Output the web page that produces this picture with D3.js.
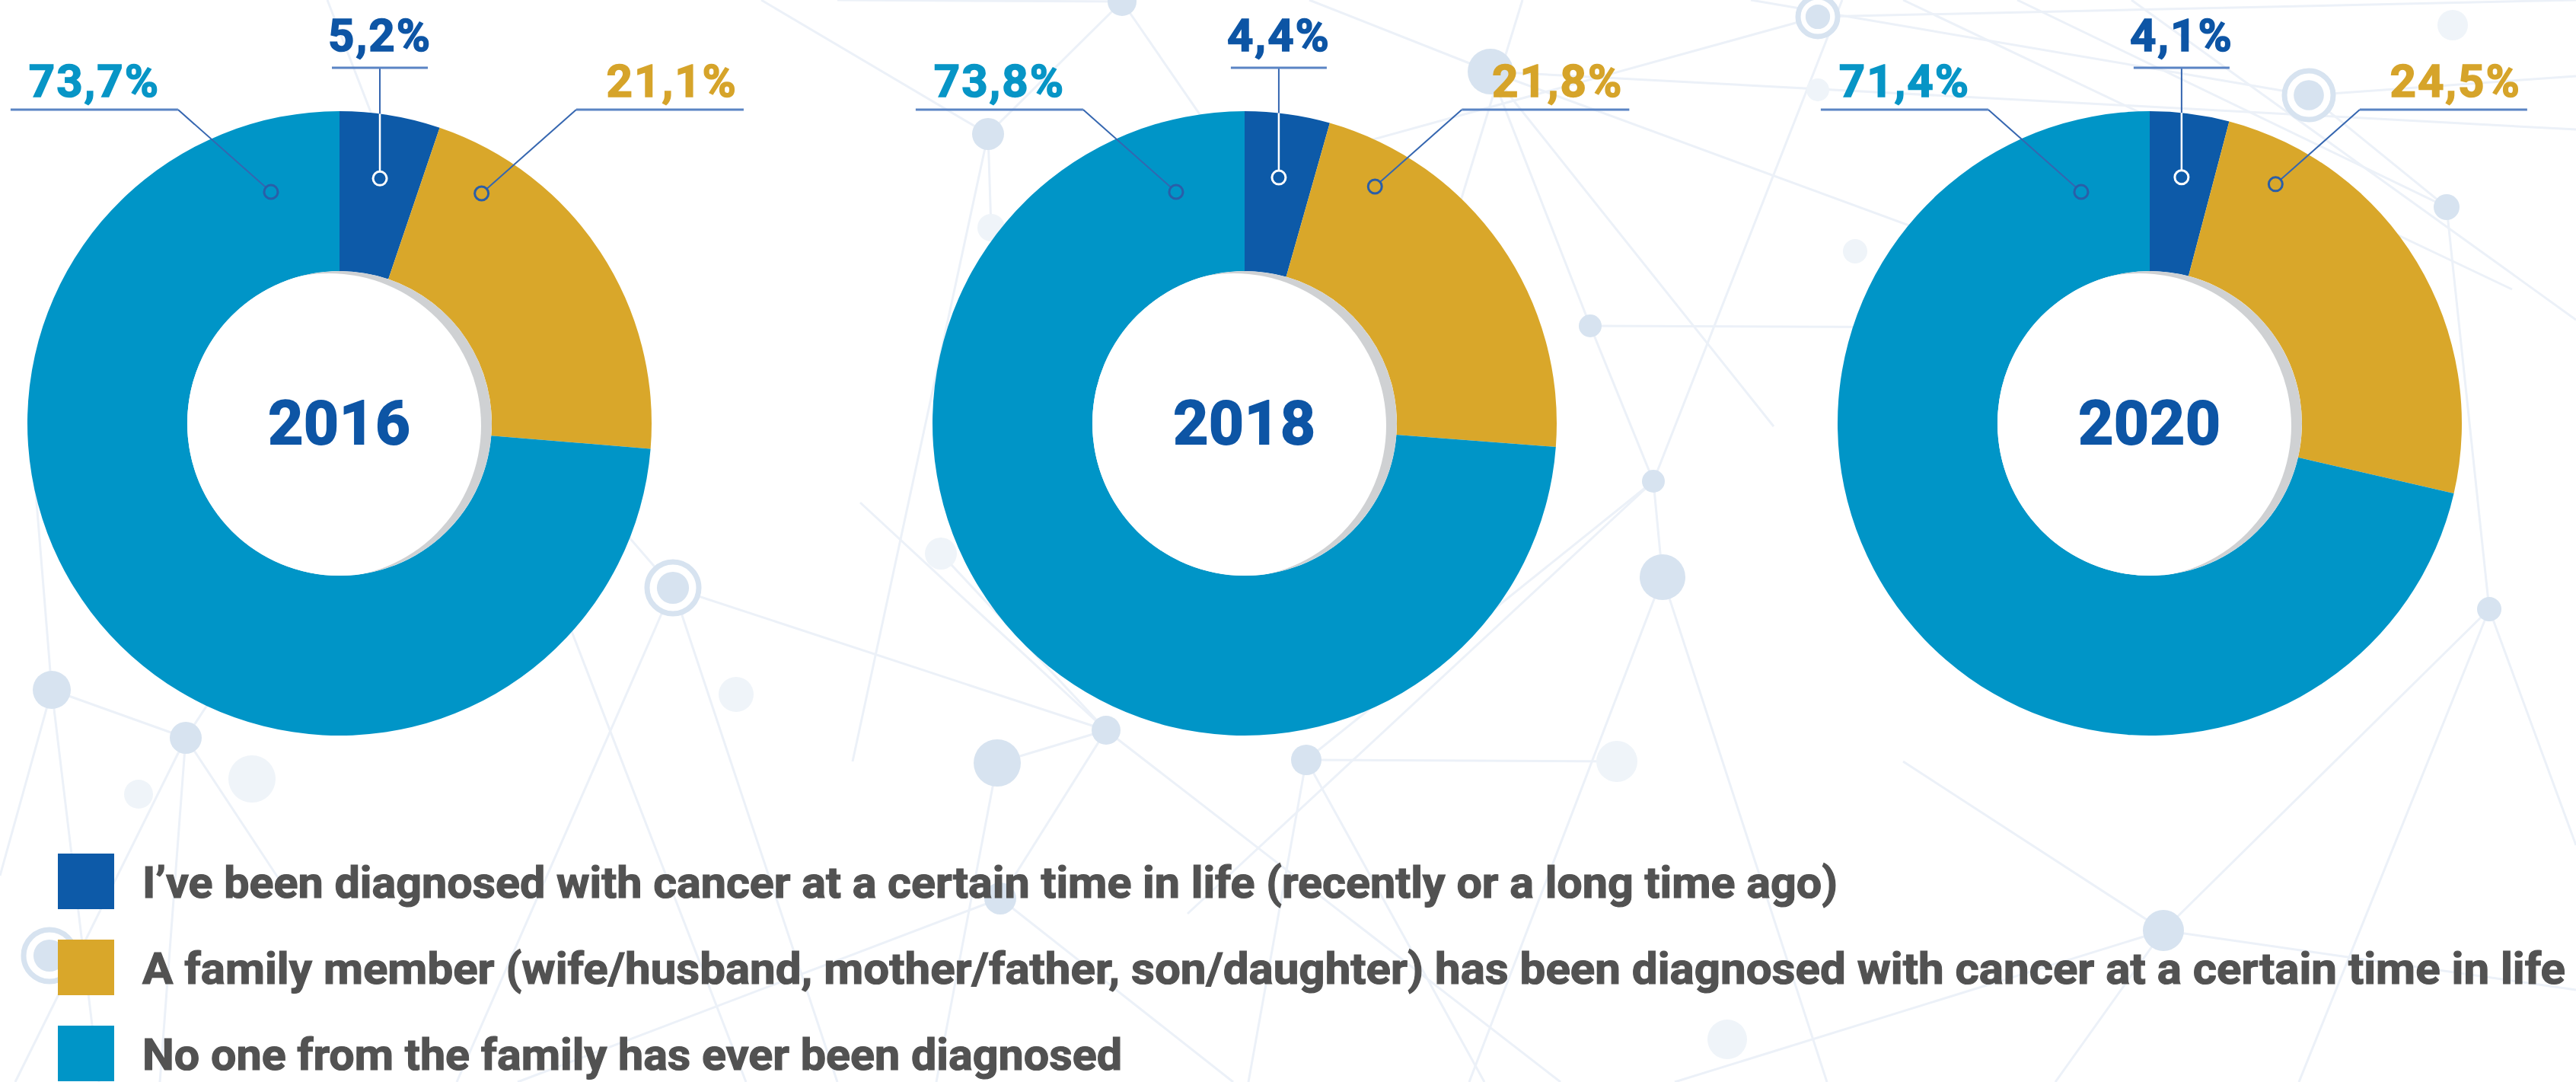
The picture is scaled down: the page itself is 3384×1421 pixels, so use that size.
<!DOCTYPE html>
<head>
  <meta charset="utf-8">
  <script src="https://cdn.jsdelivr.net/npm/d3@7"></script>
  <style>
    body { margin: 0; background: #ffffff; }
    svg { display: block; }
  </style>
</head>
<body>
  <div id="chartDiv"></div>
  <script>

    // data
    var years = ["2016", "2018", "2020"];
    var categories = [
      "I’ve been diagnosed with cancer at a certain time in life (recently or a long time ago)",
      "A family member (wife/husband, mother/father, son/daughter) has been diagnosed with cancer at a certain time in life",
      "No one from the family has ever been diagnosed"
    ];
    var selfDiagnosed   = [5.2, 4.4, 4.1];
    var familyDiagnosed = [21.1, 21.8, 24.5];
    var nobodyDiagnosed = [73.7, 73.8, 71.4];

    var sliceColors = ["#0d5aa8", "#d9a72a", "#0095c7"];
    var labelColors = ["#0d55a5", "#d6a42a", "#0795c6"];

    // background "network" decoration: [x, y, r, kind]
    var bgNodes = [
      [884, 772, 34, "ring"], [68, 906, 25, "dot"], [244, 969, 21, "dot"], [331, 1023, 31, "faint"],
      [182, 1043, 19, "faint"], [967, 912, 23, "faint"], [1236, 727, 21, "faint"], [1310, 1002, 31, "dot"],
      [1453, 959, 19, "dot"], [1716, 998, 20, "dot"], [2124, 1000, 27, "faint"], [2184, 758, 30, "dot"],
      [2172, 632, 15, "dot"], [2089, 428, 15, "dot"], [1958, 94, 30, "dot"], [1298, 176, 21, "dot"],
      [1302, 299, 18, "faint"], [1474, 2, 19, "dot"], [2388, 22, 26, "ring"], [2437, 330, 16, "faint"],
      [3033, 125, 32, "ring"], [3214, 272, 17, "dot"], [3270, 800, 16, "dot"], [2842, 1222, 27, "dot"],
      [2269, 1365, 26, "faint"], [1314, 1180, 21, "dot"], [65, 1255, 34, "ring"], [3222, 33, 20, "faint"],
      [2388, 118, 15, "faint"]
    ];
    var bgLinks = [
      [[884,772],[1453,959]], [[884,772],[600,1421]], [[700,560],[884,772]], [[884,772],[1100,1421]],
      [[68,906],[244,969]], [[68,906],[0,1150]], [[68,906],[130,1421]], [[40,560],[68,906]],
      [[244,969],[370,1160]], [[244,969],[210,1421]], [[244,969],[20,1421]], [[244,969],[420,700]],
      [[1453,959],[1314,1180]], [[1453,959],[1310,1002]], [[1453,959],[1130,660]], [[1453,959],[2050,1421]],
      [[1453,959],[1236,727]], [[1310,1002],[1230,1421]], [[1314,1180],[680,1421]], [[1314,1180],[1620,1421]],
      [[1716,998],[2124,1000]], [[1716,998],[1640,1421]], [[1716,998],[1950,1421]], [[1716,998],[2172,632]],
      [[2172,632],[2184,758]], [[2172,632],[2089,428]], [[2172,632],[2420,0]], [[2172,632],[1560,1200]],
      [[2184,758],[1930,1421]], [[2184,758],[2400,1421]], [[2089,428],[1958,94]], [[2089,428],[2620,430]],
      [[1958,94],[1720,0]], [[1958,94],[2330,560]], [[1958,94],[3384,170]], [[1958,94],[2600,330]],
      [[2388,22],[1380,300]], [[2388,22],[3384,0]], [[3033,125],[3214,272]], [[3033,125],[2300,0]],
      [[3033,125],[3384,100]], [[3214,272],[3270,800]], [[3214,272],[2650,0]], [[3270,800],[2842,1222]],
      [[3270,800],[3384,1110]], [[3270,800],[3020,1421]], [[2842,1222],[2700,1421]], [[2842,1222],[2500,1000]],
      [[2842,1222],[3384,1300]], [[2842,1222],[2200,1421]], [[1298,176],[1302,299]], [[1298,176],[1474,2]],
      [[1298,176],[1000,0]], [[1298,176],[1120,1000]], [[1474,2],[1700,330]], [[1100,0],[1474,2]],
      [[430,0],[980,1421]], [[2800,0],[3384,420]], [[2500,0],[3300,380]], [[1800,650],[2000,0]]
    ];

    var width = 3384, height = 1421;
    var cy = 556, outerR = 410, innerR = 200;
    var deg = Math.PI / 180;

    var svg = d3.select("#chartDiv").append("svg")
        .attr("width", width)
        .attr("height", height);

    // ---- background
    var bg = svg.append("g");
    bg.selectAll("line")
        .data(bgLinks)
      .enter().append("line")
        .attr("x1", function(d) { return d[0][0]; })
        .attr("y1", function(d) { return d[0][1]; })
        .attr("x2", function(d) { return d[1][0]; })
        .attr("y2", function(d) { return d[1][1]; })
        .style("stroke", "#ecf1f8")
        .style("stroke-width", 3);

    var nodes = bg.selectAll("g.bgnode")
        .data(bgNodes)
      .enter().append("g")
        .attr("class", "bgnode")
        .attr("transform", function(d) { return "translate(" + d[0] + "," + d[1] + ")"; });
    nodes.filter(function(d) { return d[3] == "ring"; }).append("circle")
        .attr("r", function(d) { return d[2]; })
        .style("fill", "#ffffff")
        .style("stroke", "#d7e3f0")
        .style("stroke-width", 7);
    nodes.append("circle")
        .attr("r", function(d) { return d[3] == "ring" ? d[2] * 0.62 : d[2]; })
        .style("fill", function(d) { return d[3] == "faint" ? "#eff4f9" : "#d7e3f0"; });

    // ---- donuts
    var x = d3.scalePoint().domain(years).range([446, 2824]);
    var color = d3.scaleOrdinal().domain([0, 1, 2]).range(sliceColors);
    var labelColor = d3.scaleOrdinal().domain([0, 1, 2]).range(labelColors);
    var pie = d3.pie().sort(null).value(function(d) { return d.value; });
    var arc = d3.arc().innerRadius(innerR).outerRadius(outerR);
    var fmt = function(v) { return d3.format(".1f")(v).replace(".", ",") + "%"; };

    svg.append("defs").append("clipPath")
        .attr("id", "hole")
      .append("circle")
        .attr("r", innerR);

    var rows = years.map(function(y, i) {
      return { year: y, slices: [
        { key: 0, value: selfDiagnosed[i] },
        { key: 1, value: familyDiagnosed[i] },
        { key: 2, value: nobodyDiagnosed[i] }
      ]};
    });

    function polar(a, r) { return [r * Math.sin(a), -r * Math.cos(a)]; }

    var lineY = -412, topLineY = -467, diagRatio = 122 / 108, underLen = 220;

    var donut = svg.selectAll("g.donut")
        .data(rows)
      .enter().append("g")
        .attr("class", "donut")
        .attr("transform", function(d) { return "translate(" + x(d.year) + "," + cy + ")"; });

    donut.each(function(row) {
      var g = d3.select(this);
      var arcs = pie(row.slices);

      g.selectAll("path.slice")
          .data(arcs)
        .enter().append("path")
          .attr("class", "slice")
          .attr("d", arc)
          .style("fill", function(d) { return color(d.data.key); });

      // hole with soft grey edge on the right
      var hole = g.append("g").attr("clip-path", "url(#hole)");
      hole.append("circle").attr("r", innerR).style("fill", "#cfd1d3");
      hole.append("circle").attr("cx", -14).attr("cy", 3).attr("r", innerR).style("fill", "#ffffff");

      g.append("text")
          .attr("y", 27)
          .attr("text-anchor", "middle")
          .style("font-family", "Roboto, 'Open Sans', sans-serif")
          .style("font-weight", 700)
          .style("font-size", "80px")
          .style("letter-spacing", "1px")
          .style("fill", "#0d55a5")
          .style("stroke", "#0d55a5")
          .style("stroke-width", 2)
          .text(row.year);

      // leader lines and labels
      arcs.forEach(function(a) {
        var k = a.data.key, m, e, x0, x1, tx, ty, anchor;
        if (k == 0) {
          m = polar((a.startAngle + a.endAngle) / 2, 326);
          e = [m[0], topLineY];
          x0 = m[0] - 63; x1 = m[0] + 63;
          tx = m[0]; ty = topLineY - 22; anchor = "middle";
        } else if (k == 1) {
          m = polar(a.startAngle + 13 * deg, 355);
          e = [m[0] + (m[1] - lineY) * diagRatio, lineY];
          x0 = e[0]; x1 = e[0] + underLen;
          tx = x1 - 8; ty = lineY - 17; anchor = "end";
        } else {
          m = polar(a.endAngle - 16.5 * deg, 317);
          e = [m[0] - (m[1] - lineY) * diagRatio, lineY];
          x0 = e[0] - underLen; x1 = e[0];
          tx = (x0 + x1) / 2; ty = lineY - 17; anchor = "middle";
        }

        g.append("line")
            .attr("x1", m[0]).attr("y1", m[1])
            .attr("x2", e[0]).attr("y2", e[1])
            .style("stroke", "#3566b0")
            .style("stroke-width", 2);
        if (k == 0) {
          var yExit = -Math.sqrt(outerR * outerR - m[0] * m[0]);
          g.append("line")
              .attr("x1", m[0]).attr("y1", m[1])
              .attr("x2", m[0]).attr("y2", yExit)
              .style("stroke", "#ffffff")
              .style("stroke-width", 2.5);
        }
        g.append("line")
            .attr("x1", x0).attr("y1", e[1])
            .attr("x2", x1).attr("y2", e[1])
            .style("stroke", "#5a84c4")
            .style("stroke-width", 3);
        g.append("circle")
            .attr("cx", m[0]).attr("cy", m[1])
            .attr("r", 9)
            .style("fill", color(k))
            .style("stroke", k == 0 ? "#ffffff" : "#2a5ea8")
            .style("stroke-width", 3);
        g.append("text")
            .attr("x", tx).attr("y", ty)
            .attr("text-anchor", anchor)
            .style("font-family", "Roboto, 'Open Sans', sans-serif")
            .style("font-weight", 700)
            .style("font-size", "60px")
            .style("letter-spacing", "2px")
            .style("fill", labelColor(k))
            .style("stroke", labelColor(k))
            .style("stroke-width", 1.5)
            .text(fmt(a.data.value));
      });
    });

    // ---- legend
    var legendWidths = [2227, 3183, 1287];
    var ly = d3.scalePoint().domain(d3.range(categories.length)).range([1158, 1384]);

    var legend = svg.selectAll("g.legend")
        .data(categories)
      .enter().append("g")
        .attr("class", "legend")
        .attr("transform", function(d, i) { return "translate(76," + ly(i) + ")"; });

    legend.append("rect")
        .attr("y", -37)
        .attr("width", 74)
        .attr("height", 73)
        .style("fill", function(d, i) { return color(i); });

    legend.append("text")
        .attr("x", 111)
        .attr("y", 21)
        .attr("textLength", function(d, i) { return legendWidths[i]; })
        .attr("lengthAdjust", "spacingAndGlyphs")
        .style("font-family", "Roboto, 'Open Sans', sans-serif")
        .style("font-weight", 700)
        .style("font-size", "58px")
        .style("fill", "#525252")
        .style("stroke", "#525252")
        .style("stroke-width", 1.2)
        .text(function(d) { return d; });

  </script>
</body>
